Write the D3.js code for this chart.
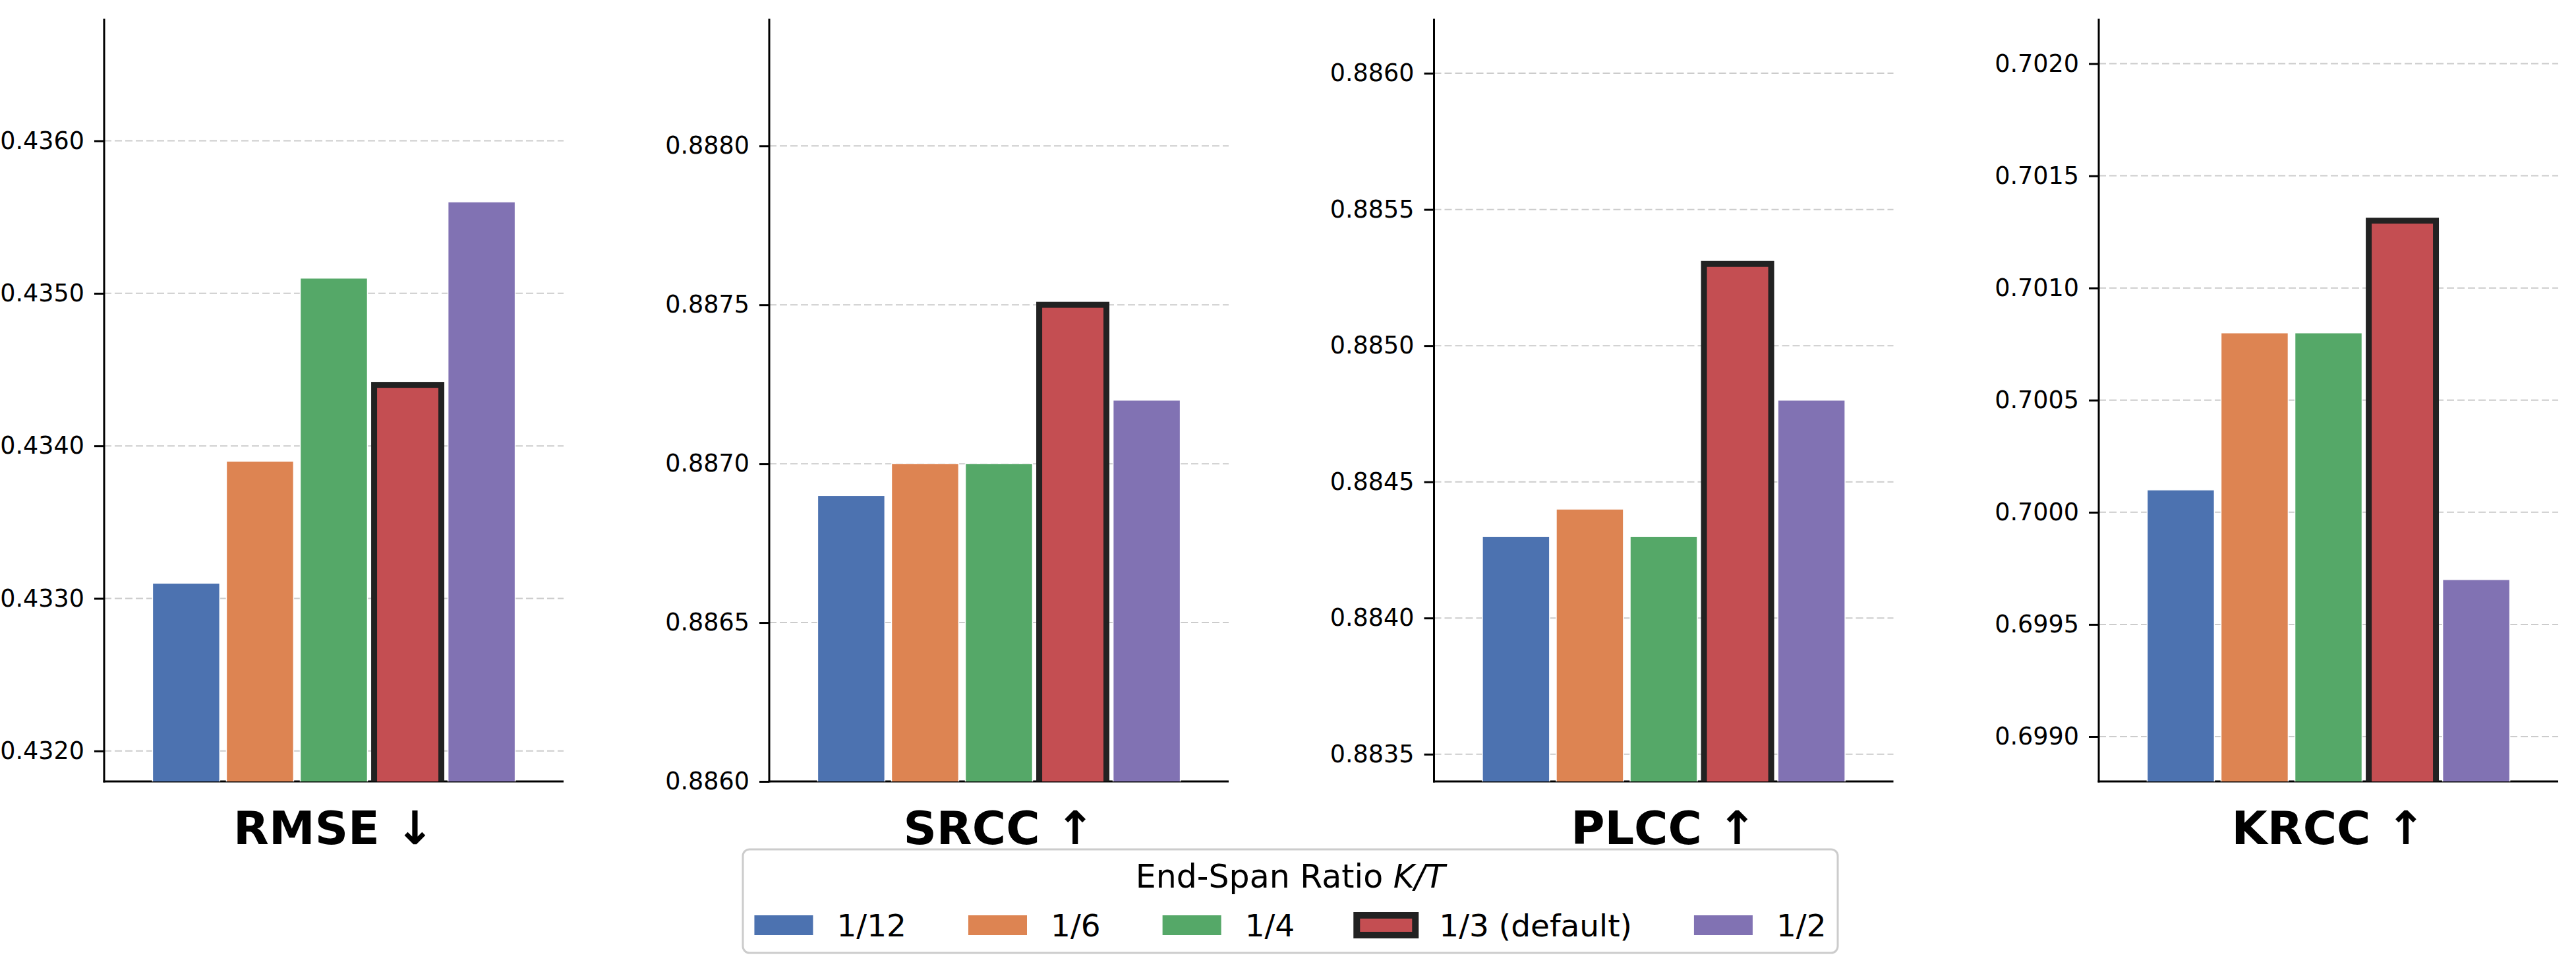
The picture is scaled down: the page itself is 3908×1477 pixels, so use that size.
<!DOCTYPE html>
<html>
<head>
<meta charset="utf-8">
<script src="https://d3js.org/d3.v7.min.js"></script>
<style>
  body { margin: 0; background: #ffffff; }
  text { font-family: "DejaVu Sans", sans-serif; }
</style>
</head>
<body>
<svg id="drawing_region"></svg>
<script>
// values
const ratios = ['1/12', '1/6', '1/4', '1/3 (default)', '1/2'];
const metrics = ['RMSE ↓', 'SRCC ↑', 'PLCC ↑', 'KRCC ↑'];
const rmse = [0.4331, 0.4339, 0.4351, 0.4344, 0.4356];
const srcc = [0.8869, 0.8870, 0.8870, 0.8875, 0.8872];
const plcc = [0.8843, 0.8844, 0.8843, 0.8853, 0.8848];
const krcc = [0.7001, 0.7008, 0.7008, 0.7013, 0.6997];
const yDomains = [[0.4318, 0.4368], [0.8860, 0.8884], [0.8834, 0.8862], [0.6988, 0.7022]];
const yTicks = [
    [0.4320, 0.4330, 0.4340, 0.4350, 0.4360],
    [0.8860, 0.8865, 0.8870, 0.8875, 0.8880],
    [0.8835, 0.8840, 0.8845, 0.8850, 0.8855, 0.8860],
    [0.6990, 0.6995, 0.7000, 0.7005, 0.7010, 0.7015, 0.7020]
];
const colors = ['#4C72B0', '#DD8452', '#55A868', '#C44E52', '#8172B3'];
const highlight = '1/3 (default)';
const legendTitle = 'End-Span Ratio ';
const legendTitleItalic = 'K/T';

const seriesList = [rmse, srcc, plcc, krcc];

class BarPanel {

    constructor( config, values, index ) {
        this.config = config;
        this.values = values;
        this.index = index;
        this.init();
    }

    init() {
        let self = this;
        const c = self.config;

        self.chart = c.svg.append('g')
            .attr('transform', `translate(${c.left}, ${c.top})`);

        self.xscale = d3.scaleBand()
            .domain( ratios )
            .range( [0, c.width] )
            .paddingInner( 0.09 )
            .paddingOuter( 0.655 );

        self.yscale = d3.scaleLinear()
            .domain( yDomains[self.index] )
            .range( [c.height, 0] );
    }

    render() {
        let self = this;
        const c = self.config;
        const ticks = yTicks[self.index];

        // grid
        self.chart.append('g')
            .selectAll('line')
            .data( ticks )
            .join('line')
            .attr('x1', 0)
            .attr('x2', c.width)
            .attr('y1', d => self.yscale(d))
            .attr('y2', d => self.yscale(d))
            .attr('stroke', '#cccccc')
            .attr('stroke-width', 2)
            .attr('stroke-dasharray', '11,5');

        // left axis
        const yaxis = d3.axisLeft( self.yscale )
            .tickValues( ticks )
            .tickFormat( d3.format('.4f') )
            .tickSize( 15 )
            .tickPadding( 15 );

        const ag = self.chart.append('g').call( yaxis );
        ag.select('.domain').remove();
        ag.selectAll('.tick line')
            .attr('stroke', '#000')
            .attr('stroke-width', 3);
        ag.selectAll('.tick text')
            .attr('font-family', '"DejaVu Sans", sans-serif')
            .attr('font-size', '36.5px')
            .attr('fill', '#000');

        // spines
        self.chart.append('line')
            .attr('x1', 0).attr('x2', 0)
            .attr('y1', 0).attr('y2', c.height + 1.5)
            .attr('stroke', '#000')
            .attr('stroke-width', 3);
        self.chart.append('line')
            .attr('x1', -1.5).attr('x2', c.width)
            .attr('y1', c.height).attr('y2', c.height)
            .attr('stroke', '#000')
            .attr('stroke-width', 3);

        // bars, clipped to the plot area
        const clipId = 'clip' + self.index;
        self.chart.append('clipPath')
            .attr('id', clipId)
            .append('rect')
            .attr('x', 0)
            .attr('y', -20)
            .attr('width', c.width)
            .attr('height', c.height + 20);

        const rows = ratios.map( (r, i) => ({ ratio: r, value: self.values[i], color: colors[i] }) );

        self.chart.append('g')
            .attr('clip-path', `url(#${clipId})`)
            .selectAll('rect')
            .data( rows )
            .join('rect')
            .attr('x', d => self.xscale(d.ratio))
            .attr('y', d => self.yscale(d.value))
            .attr('width', self.xscale.bandwidth())
            .attr('height', d => c.height + 20 - self.yscale(d.value))
            .attr('fill', d => d.color)
            .attr('stroke', d => d.ratio == highlight ? '#222222' : '#ffffff')
            .attr('stroke-width', d => d.ratio == highlight ? 9 : 1.5);

        // metric label
        self.chart.append('text')
            .attr('x', c.width / 2)
            .attr('y', c.height + 95)
            .attr('text-anchor', 'middle')
            .attr('font-size', '70px')
            .attr('font-weight', 700)
            .attr('fill', '#000')
            .text( metrics[self.index] );
    }
}

const W = 3908, H = 1477;
const svg = d3.select('#drawing_region')
    .attr('width', W)
    .attr('height', H);

const panelLeft = [158, 1167, 2175.5, 3184];
panelLeft.forEach( (left, i) => {
    const panel = new BarPanel( {
        svg: svg,
        left: left,
        top: 28.5,
        width: 697,
        height: 1156.5
    }, seriesList[i], i );
    panel.render();
});

// legend
const box = { x: 1127, y: 1288, w: 1661, h: 157 };
const legend = svg.append('g');
legend.append('rect')
    .attr('x', box.x)
    .attr('y', box.y)
    .attr('width', box.w)
    .attr('height', box.h)
    .attr('rx', 10)
    .attr('fill', '#ffffff')
    .attr('stroke', '#cccccc')
    .attr('stroke-width', 3);

const lt = legend.append('text')
    .attr('x', box.x + box.w / 2)
    .attr('y', 1346)
    .attr('text-anchor', 'middle')
    .attr('font-size', '49px')
    .attr('fill', '#000');
lt.append('tspan').text( legendTitle );
lt.append('tspan').attr('font-style', 'italic').text( legendTitleItalic );

const patchW = 89, patchH = 30, handleGap = 36, colGap = 94;
const items = legend.selectAll('g.item')
    .data( ratios )
    .join('g')
    .attr('class', 'item');

items.append('rect')
    .attr('width', patchW)
    .attr('height', patchH)
    .attr('fill', (d, i) => colors[i])
    .attr('stroke', d => d == highlight ? '#222222' : 'none')
    .attr('stroke-width', 10);

items.append('text')
    .attr('x', patchW + handleGap)
    .attr('y', patchH / 2 + 17)
    .attr('font-size', '47px')
    .attr('fill', '#000')
    .text( d => d );

const widths = [];
items.each( function() {
    widths.push( d3.select(this).select('text').node().getComputedTextLength() );
});
const total = d3.sum( widths ) + ratios.length * (patchW + handleGap) + (ratios.length - 1) * colGap;
let cursor = box.x + (box.w - total) / 2;
items.attr('transform', (d, i) => {
    const t = `translate(${cursor}, 1388)`;
    cursor += patchW + handleGap + widths[i] + colGap;
    return t;
});
</script>
</body>
</html>
